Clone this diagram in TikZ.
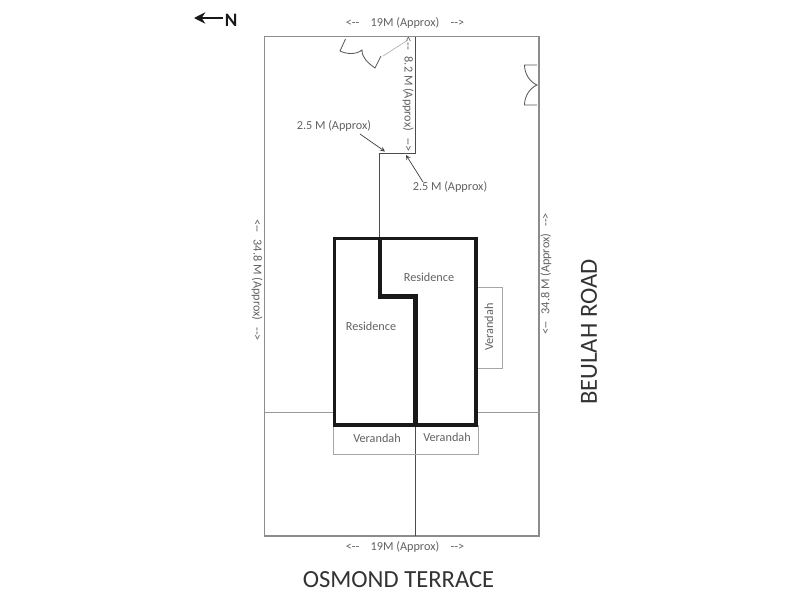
\documentclass[tikz,border=0pt]{standalone}
\usepackage{fontspec}
\setmainfont{Carlito}
\usetikzlibrary{calc,positioning,arrows.meta}

\definecolor{planline}{gray}{0.55}
\definecolor{plantext}{gray}{0.38}

\tikzset{
	boundary/.style={draw=planline,line width=0.8pt},
	fence/.style={draw=black!70,line width=0.6pt},
	wall/.style={draw=black!90,line width=2.2pt},
	thinwall/.style={draw=black!40,line width=0.5pt},
	porch/.style={draw=black!35,line width=0.5pt},
	door/.style={draw=black!65,line width=0.6pt},
	lbl/.style={text=plantext,font=\fontsize{8.7pt}{9pt}\selectfont,inner sep=0pt},
	roadname/.style={text=black!80,font=\fontsize{17.5pt}{19pt}\selectfont,inner sep=0pt}
}

\begin{document}
\begin{tikzpicture}[x=0.025cm,y=-0.025cm,>=stealth]
	\useasboundingbox (0,0) rectangle (800,600);

	% block
	\draw[boundary] (264.5,36.5) rectangle (539,536);
	\draw[thinwall] (264.5,412) -- (334,412);
	\draw[thinwall] (476,412.5) -- (539,412.5);

	% fence
	\coordinate (f0) at (415,36.5);
	\coordinate (f1) at (415,153);
	\coordinate (f2) at (379,153);
	\coordinate (f3) at (379,238);
	\draw[fence] (f0) -- (f1) -- (f2) -- (f3);
	\draw[fence] (415,425) -- (415,536);

	% verandahs
	\draw[porch] (333.5,425) -- (333.5,454.5) -- (478,454.5) -- (478,425);
	\draw[porch] (476,287) -- (502,287) -- (502,368) -- (476,368);

	% house
	\draw[wall] (334.5,238.5) rectangle (476,425);
	\draw[wall,line width=3.2pt] (380,238.5) -- (380,296.5) -- (415.5,296.5) -- (415.5,425);

	% doors
	\draw[door] (345.5,39) -- (340,51) .. controls (346,54) and (356,55) .. (362,50)
		.. controls (362,58) and (368,63) .. (375,68) -- (381,56);
	\draw[door] (537,65) -- (524.5,65) .. controls (524.5,74) and (530,82) .. (537,85)
		.. controls (530,88) and (524.5,96) .. (524.5,105) -- (537,105);

	% north
	\coordinate (nt) at (194,18);
	\node[inner sep=0pt,font=\bfseries\fontsize{13.5pt}{14pt}\selectfont,text=black!90] (north) at (231,20.5) {N};
	\draw[-{Stealth[length=8pt,width=8pt]},line width=2pt,black!90] (223,18) -- (nt);

	% dimensions
	\node[lbl] (dimtop) at (405,23) {<-{}-\hspace{8pt}19M (Approx)\hspace{8pt}-{}->};
	\node[lbl] (dimbot) at (405,547) {<-{}-\hspace{8pt}19M (Approx)\hspace{8pt}-{}->};
	\node[lbl,rotate=-90] (dimleft) at (257,280) {<-{}-\hspace{5pt}34.8 M (Approx)\hspace{5pt}-{}->};
	\node[lbl,rotate=90] (dimright) at (546,274) {<-{}-\hspace{5pt}34.8 M (Approx)\hspace{5pt}-{}->};
	\node[lbl,rotate=-90] (dimfence) at (408,94) {<-{}-\hspace{5pt}8.2 M (Approx)\hspace{5pt}-{}->};

	\coordinate (fa) at (383,56);
	\coordinate (fb) at (408,40);
	\draw[draw=black!30,line width=0.5pt] (fa) -- (fb);

	\node[lbl] (widthl) at (334,126) {2.5 M (Approx)};
	\node[lbl] (widthr) at (450,187) {2.5 M (Approx)};
	\coordinate (wl) at (385,151.5);
	\coordinate (wr) at (406,155);
	\draw[->,black!75,line width=0.5pt] (360,134) -- (wl);
	\draw[->,black!75,line width=0.5pt] (423,182) -- (wr);

	% rooms
	\node[lbl] (resone) at (429,277) {Residence};
	\node[lbl] (restwo) at (371,326) {Residence};
	\node[lbl] (veranone) at (377,438) {Verandah};
	\node[lbl] (verantwo) at (447,437) {Verandah};
	\node[lbl,rotate=90] (veranthree) at (489,327) {Verandah};

	% roads
	\node[roadname] (osmond) at (398.5,580) {OSMOND TERRACE};
	\node[roadname,rotate=90] (beulah) at (589,332) {BEULAH ROAD};

\end{tikzpicture}
\end{document}
